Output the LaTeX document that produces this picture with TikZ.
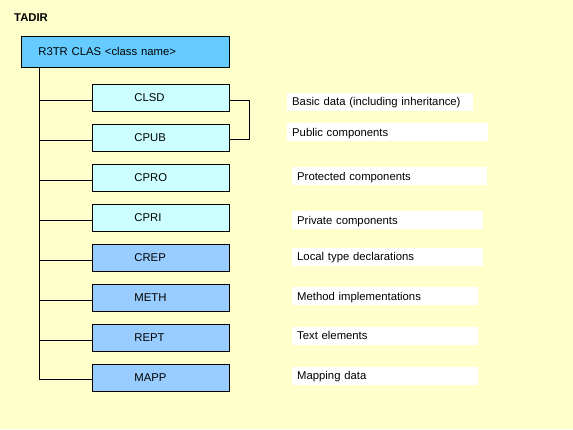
\documentclass[tikz,border=0pt]{standalone}
\usepackage{fontspec}
\setmainfont{Liberation Sans}
\usepackage{tikz}
\usetikzlibrary{positioning}
\definecolor{bgyellow}{HTML}{FFFFCC}
\definecolor{rootblue}{HTML}{66CCFF}
\definecolor{paleblue}{HTML}{CCFFFF}
\definecolor{midblue}{HTML}{99CCFF}
\tikzset{>=latex}
\tikzstyle{txt} = [font=\fontsize{11.3}{13}\selectfont]
\tikzstyle{rootbox} = [rectangle, txt, draw=black, line width=0.8pt, fill=rootblue, minimum height=31pt, text width=174pt, inner xsep=17pt, inner ysep=0pt, align=left, anchor=north west]
\tikzstyle{tabbox} = [rectangle, txt, draw=black, line width=0.8pt, minimum height=27pt, text width=53pt, inner xsep=42pt, inner ysep=0pt, align=left, anchor=north west]
\tikzstyle{lbl} = [rectangle, txt, fill=white, minimum height=18pt, inner xsep=5pt, inner ysep=0pt, text depth=0pt, align=left, anchor=west]
\tikzstyle{wire} = [-, draw=black, line width=0.8pt]

\begin{document}
\begin{tikzpicture}[x=1pt, y=-1pt]
\fill [bgyellow] (0, 0) rectangle (573, 429);
\useasboundingbox (0, 0) rectangle (573, 429);
\node [txt, font=\fontsize{11.3}{13}\selectfont\bfseries, anchor=west, inner sep=0pt] (tadir) at (14, 18) {TADIR};
\node [rootbox] (root) at (21, 36) {R3TR CLAS <class name>};
% table entries
\node [tabbox, fill=paleblue] (clsd) at (92, 84) {CLSD};
\node [tabbox, fill=paleblue] (cpub) at (92, 124) {CPUB};
\node [tabbox, fill=paleblue] (cpro) at (92, 164) {CPRO};
\node [tabbox, fill=paleblue] (cpri) at (92, 204) {CPRI};
\node [tabbox, fill=midblue] (crep) at (92, 244) {CREP};
\node [tabbox, fill=midblue] (meth) at (92, 284) {METH};
\node [tabbox, fill=midblue] (rept) at (92, 324) {REPT};
\node [tabbox, fill=midblue] (mapp) at (92, 364) {MAPP};
% descriptions
\node [lbl, text width=176pt] (dclsd) at (287, 101.5) {Basic data (including inheritance)};
\node [lbl, text width=191pt] (dcpub) at (287, 132.2) {Public components};
\node [lbl, text width=185pt] (dcpro) at (292, 176.3) {Protected components};
\node [lbl, text width=181pt] (dcpri) at (292, 220.2) {Private components};
\node [lbl, text width=181pt] (dcrep) at (292, 256.5) {Local type declarations};
\node [lbl, text width=176pt] (dmeth) at (292, 296.3) {Method implementations};
\node [lbl, text width=176pt] (drept) at (292, 335.5) {Text elements};
\node [lbl, text width=176pt] (dmapp) at (292, 375.5) {Mapping data};
% tree lines
\coordinate (T) at ([xshift=18pt]root.south west);
\draw [wire] (T) |- ([yshift=-1pt]mapp.west);
\foreach \n in {clsd, cpub, cpro, cpri, crep, meth, rept}
  \draw [wire] ([yshift=-2pt]T |- \n.west) -- ([yshift=-2pt]\n.west);
\draw [wire] ([yshift=-2pt]clsd.east) -- ++(20, 0) |- ([yshift=-1pt]cpub.east);
\end{tikzpicture}
\end{document}
